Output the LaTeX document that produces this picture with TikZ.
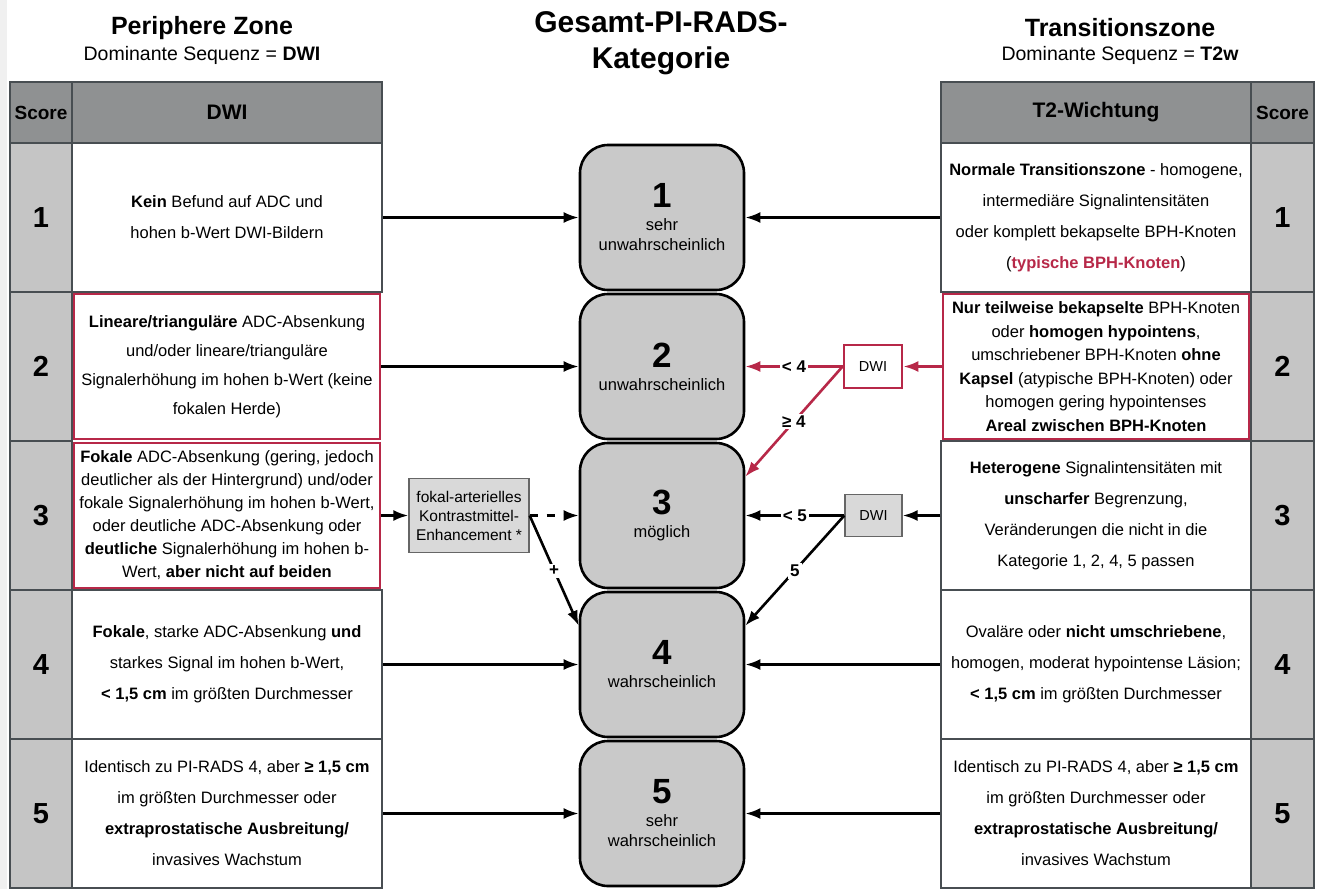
\documentclass[tikz,border=0pt]{standalone}
\usepackage{fontspec}
\setmainfont{Liberation Sans}
\usetikzlibrary{arrows.meta}

\definecolor{kopfgrau}{RGB}{143,145,146}
\definecolor{scoregrau}{RGB}{197,197,197}
\definecolor{katgrau}{RGB}{201,201,201}
\definecolor{boxgrau}{RGB}{217,217,217}
\definecolor{rot}{RGB}{183,40,72}
\definecolor{linie}{RGB}{72,78,82}

\newcommand{\zahl}[1]{{\fontsize{35}{35}\selectfont\bfseries #1}}

\tikzset{
  zelle/.style={draw=linie, line width=1.3pt, fill=white, minimum width=310pt,
    minimum height=149pt, inner sep=0pt, align=center, font=\fontsize{16.5}{31}\selectfont},
  rotzelle/.style={zelle, draw=rot, line width=2.8pt, minimum width=306pt, minimum height=145pt},
  score/.style={draw=linie, line width=1.3pt, fill=scoregrau, minimum height=149pt,
    inner sep=0pt, font=\fontsize{29}{29}\selectfont\bfseries},
  kopf/.style={draw=linie, line width=1.3pt, fill=kopfgrau, minimum height=61pt,
    inner sep=0pt, font=\fontsize{21}{21}\selectfont\bfseries},
  kat/.style={draw=black, line width=2.6pt, fill=katgrau, rounded corners=28pt,
    minimum width=164pt, minimum height=145pt, align=center, font=\fontsize{16.5}{20}\selectfont},
  klein/.style={draw=black!60, line width=1.3pt, fill=boxgrau, inner sep=0pt, align=center},
  pfeil/.style={line width=2.6pt, -{Latex[length=15pt,width=11pt]}},
  wert/.style={fill=white, text=black, inner sep=2pt, font=\fontsize{17}{17}\selectfont\bfseries},
}

\begin{document}
\begin{tikzpicture}[x=1pt,y=-1pt]
\useasboundingbox (0,0) rectangle (1317,889);
\fill[white] (0,0) rectangle (1317,889);
\fill[gray!12] (0,0) rectangle (7,889);

% Titel
\node[font=\fontsize{25}{25}\selectfont\bfseries] (pztitel) at (202,28) {Periphere Zone};
\node[font=\fontsize{19.5}{19.5}\selectfont] (pzsub) at (202,55) {Dominante Sequenz = \textbf{DWI}};
\node[font=\fontsize{30}{36}\selectfont\bfseries, align=center] (titel) at (661,43) {Gesamt-PI-RADS-\\Kategorie};
\node[font=\fontsize{25}{25}\selectfont\bfseries] (tztitel) at (1120,28) {Transitionszone};
\node[font=\fontsize{19.5}{19.5}\selectfont] (tzsub) at (1120,55) {Dominante Sequenz = \textbf{T2w}};

% Tabellenkopf
\node[kopf, minimum width=62pt, font=\fontsize{19}{19}\selectfont\bfseries] (pzkopfs) at (41,112.5) {Score};
\node[kopf, minimum width=310pt] (pzkopf) at (227,112.5) {DWI};
\node[kopf, minimum width=310pt] (tzkopf) at (1096,112.5) {T2-Wichtung};
\node[kopf, minimum width=63pt, font=\fontsize{19}{19}\selectfont\bfseries] (tzkopfs) at (1282.5,112.5) {Score};

\foreach \i in {1,...,5}{
  \node[score, minimum width=62pt] (pzs\i) at (41,{68.5+149*\i}) {\i};
  \node[score, minimum width=63pt] (tzs\i) at (1282.5,{68.5+149*\i}) {\i};
}

% Periphere Zone
\node[zelle] (pz1) at (227,217.5) {\textbf{Kein} Befund auf ADC und\\hohen b-Wert DWI-Bildern};
\node[rotzelle, font=\fontsize{16.5}{29}\selectfont] (pz2) at (227,366.5) {\textbf{Lineare/trianguläre} ADC-Absenkung\\und/oder lineare/trianguläre\\Signalerhöhung im hohen b-Wert (keine\\fokalen Herde)};
\node[rotzelle, font=\fontsize{16.5}{23}\selectfont] (pz3) at (227,515.5) {\textbf{Fokale} ADC-Absenkung (gering, jedoch\\deutlicher als der Hintergrund) und/oder\\fokale Signalerhöhung im hohen b-Wert,\\oder deutliche ADC-Absenkung oder\\\textbf{deutliche} Signalerhöhung im hohen b-\\Wert, \textbf{aber nicht auf beiden}};
\node[zelle] (pz4) at (227,664.5) {\textbf{Fokale}, starke ADC-Absenkung \textbf{und}\\starkes Signal im hohen b-Wert,\\\textbf{< 1,5 cm} im größten Durchmesser};
\node[zelle] (pz5) at (227,813.5) {Identisch zu PI-RADS 4, aber \textbf{≥ 1,5 cm}\\im größten Durchmesser oder\\\textbf{extraprostatische Ausbreitung/}\\invasives Wachstum};

% Transitionszone
\node[zelle] (tz1) at (1096,217.5) {\textbf{Normale Transitionszone} - homogene,\\intermediäre Signalintensitäten\\oder komplett bekapselte BPH-Knoten\\(\textcolor{rot}{\textbf{typische BPH-Knoten}})};
\node[rotzelle, font=\fontsize{16.5}{23.5}\selectfont] (tz2) at (1096,366.5) {\textbf{Nur teilweise bekapselte} BPH-Knoten\\oder \textbf{homogen hypointens},\\umschriebener BPH-Knoten \textbf{ohne}\\\textbf{Kapsel} (atypische BPH-Knoten) oder\\homogen gering hypointenses\\\textbf{Areal zwischen BPH-Knoten}};
\node[zelle] (tz3) at (1096,515.5) {\textbf{Heterogene} Signalintensitäten mit\\\textbf{unscharfer} Begrenzung,\\Veränderungen die nicht in die\\Kategorie 1, 2, 4, 5 passen};
\node[zelle] (tz4) at (1096,664.5) {Ovaläre oder \textbf{nicht umschriebene},\\homogen, moderat hypointense Läsion;\\\textbf{< 1,5 cm} im größten Durchmesser};
\node[zelle] (tz5) at (1096,813.5) {Identisch zu PI-RADS 4, aber \textbf{≥ 1,5 cm}\\im größten Durchmesser oder\\\textbf{extraprostatische Ausbreitung/}\\invasives Wachstum};

% Gesamtkategorie
\foreach \i/\txt in {1/{sehr\\unwahrscheinlich},2/unwahrscheinlich,3/möglich,4/wahrscheinlich,5/{sehr\\wahrscheinlich}}
  \node[kat] (kat\i) at (662,{68.5+149*\i}) {\zahl{\i}\\[3pt]\txt};

\node[klein, font=\fontsize{15.5}{19}\selectfont, minimum width=120pt, minimum height=74pt] (kme) at (469,515.5) {fokal-arterielles\\Kontrastmittel-\\Enhancement *};
\node[klein, draw=rot, line width=2.8pt, fill=white, font=\fontsize{14.5}{14.5}\selectfont, minimum width=58pt, minimum height=43pt] (dwirot) at (873,366.5) {DWI};
\node[klein, font=\fontsize{14.5}{14.5}\selectfont, minimum width=57pt, minimum height=42pt] (dwigrau) at (873.5,515.5) {DWI};

\foreach \i in {1,2,4,5}
  \draw[pfeil] (pz\i) -- (kat\i);
\foreach \i in {1,4,5}
  \draw[pfeil] (tz\i) -- (kat\i);
\draw[pfeil] (pz3) -- (kme);
\draw[pfeil, dash pattern=on 8pt off 9pt] (kme) -- (kat3);
\draw[pfeil] (kme.east) -- node[wert] {+} (kat4.155);

\draw[pfeil, rot] (tz2) -- (dwirot);
\draw[pfeil, rot] (dwirot.west) -- node[wert] {< 4} (kat2);
\draw[pfeil, rot] (dwirot.west) -- node[wert] {≥ 4} (kat3.25);
\draw[pfeil] (tz3) -- (dwigrau);
\draw[pfeil] (dwigrau.west) -- node[wert] {< 5} (kat3);
\draw[pfeil] (dwigrau.west) -- node[wert] {5} (kat4.25);
\end{tikzpicture}
\end{document}
